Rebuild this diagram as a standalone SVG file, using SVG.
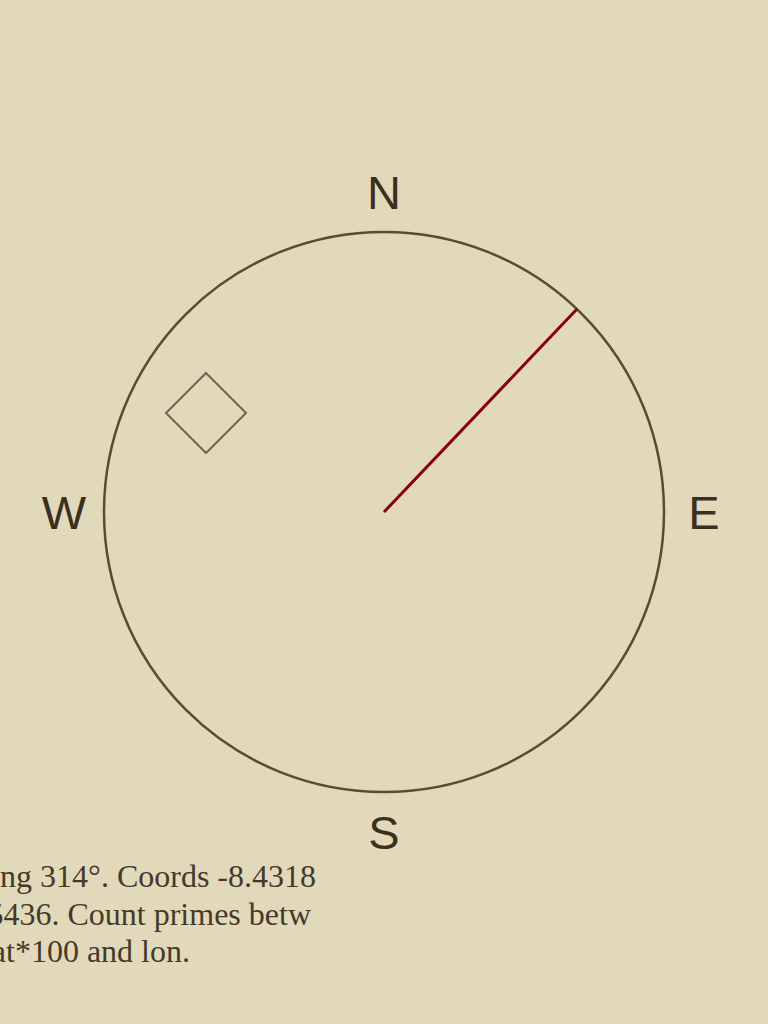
<svg xmlns="http://www.w3.org/2000/svg" width="768" height="1024" viewBox="0 0 768 1024">
<style>
.lbl{font-family:"Liberation Sans",Arial,sans-serif;font-size:47px;fill:#3b2f1e;text-anchor:middle}
.note{font-family:"Liberation Serif","Times New Roman",serif;font-size:32px;fill:#45392a;text-anchor:end}
</style>
<rect width="768" height="1024" fill="#e2d9bb"/>
<g id="dial">
<circle cx="384" cy="512" r="280" fill="none" stroke="#5a4b33" stroke-width="2.5"/>
</g>
<g id="labels">
<text class="lbl" x="384" y="209">N</text>
<text class="lbl" x="704" y="529">E</text>
<text class="lbl" x="384" y="849">S</text>
<text class="lbl" x="64" y="529">W</text>
</g>
<g id="marker">
<polygon points="206,373 246,413 206,453 166,413" fill="none" stroke="#6f6553" stroke-width="2"/>
</g>
<g id="connectors">
<line x1="384" y1="512" x2="577" y2="309" stroke="#8b0000" stroke-width="3"/>
</g>
<g id="note">
<text class="note" x="316" y="887">ng 314°. Coords -8.4318</text>
<text class="note" x="311" y="925">5436. Count primes betw</text>
<text class="note" x="190" y="962">at*100 and lon.</text>
</g>
</svg>
